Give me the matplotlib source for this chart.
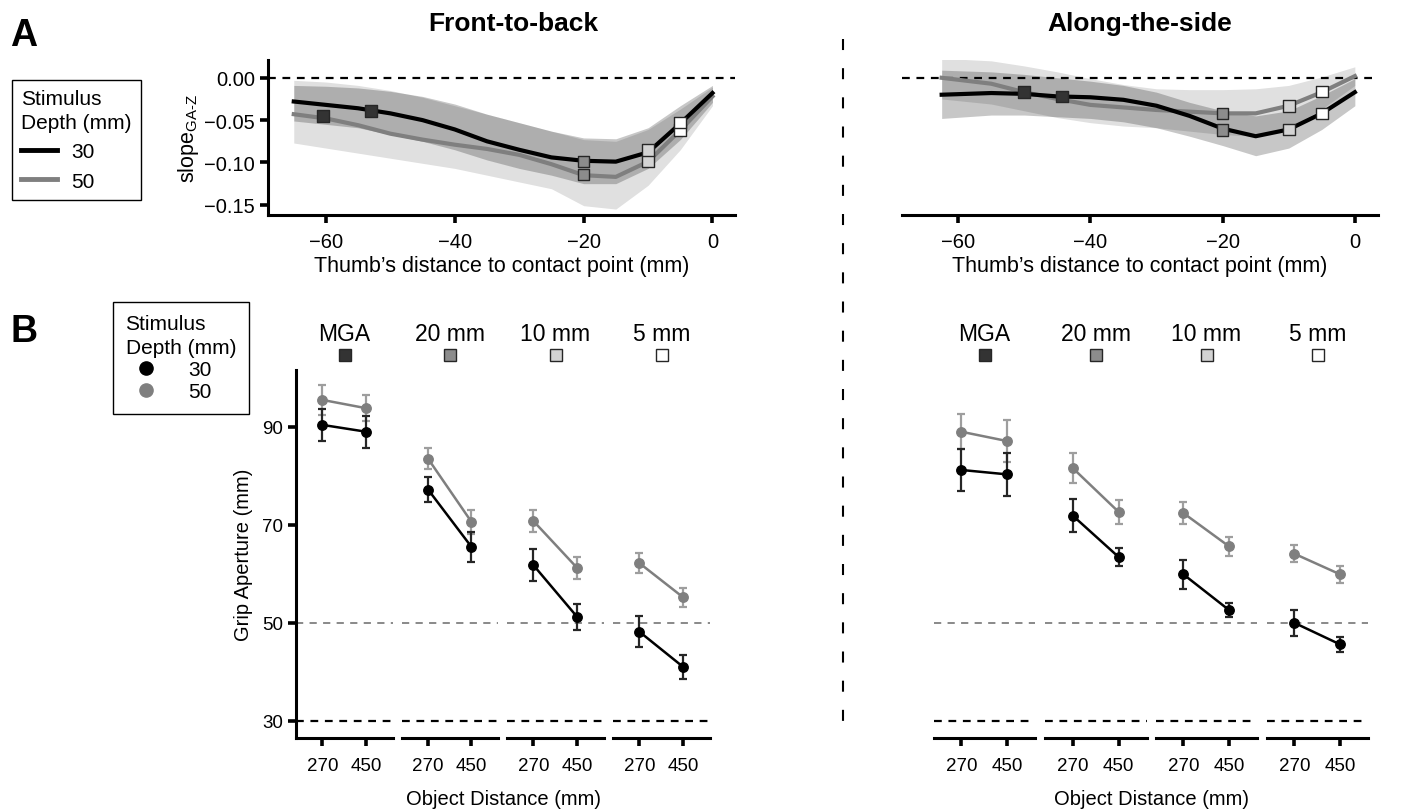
import numpy as np
import matplotlib.pyplot as plt
from matplotlib.lines import Line2D
from matplotlib.ticker import FuncFormatter

plt.rcParams['font.family'] = 'Liberation Sans'
plt.rcParams['mathtext.fontset'] = 'custom'
plt.rcParams['mathtext.rm'] = 'Liberation Sans'
plt.rcParams['font.size'] = 13
plt.rcParams['axes.linewidth'] = 2.2
plt.rcParams['xtick.major.width'] = 2.6
plt.rcParams['ytick.major.width'] = 2.6
plt.rcParams['xtick.major.size'] = 6
plt.rcParams['ytick.major.size'] = 6
plt.rcParams['xtick.major.pad'] = 6
plt.rcParams['xtick.labelsize'] = 13.5
plt.rcParams['ytick.labelsize'] = 13.5

# ---------------- A: slope of grip aperture over thumb distance ----------------
# front-to-back
dist_fb = [-65, -60, -55, -50, -45, -40, -35, -30, -25, -20, -15, -10, -5, 0]
slope_fb_30 = [-0.028, -0.032, -0.036, -0.042, -0.050, -0.061, -0.075, -0.085,
               -0.094, -0.098, -0.099, -0.088, -0.054, -0.018]
slope_fb_50 = [-0.043, -0.048, -0.056, -0.066, -0.073, -0.079, -0.084, -0.091,
               -0.102, -0.115, -0.117, -0.099, -0.062, -0.022]
band_fb_30_hi = [-0.009, -0.010, -0.012, -0.016, -0.022, -0.031, -0.043, -0.053,
                 -0.063, -0.071, -0.072, -0.059, -0.033, -0.009]
band_fb_30_lo = [-0.051, -0.055, -0.059, -0.067, -0.075, -0.085, -0.097, -0.107,
                 -0.115, -0.125, -0.125, -0.107, -0.073, -0.029]
band_fb_50_hi = [-0.003, -0.005, -0.009, -0.015, -0.023, -0.033, -0.043, -0.053,
                 -0.063, -0.073, -0.075, -0.061, -0.037, -0.011]
band_fb_50_lo = [-0.077, -0.083, -0.089, -0.095, -0.101, -0.107, -0.115, -0.123,
                 -0.131, -0.151, -0.155, -0.127, -0.085, -0.033]
# along-the-side
dist_as = [-62.5, -55, -50, -45, -40, -35, -30, -25, -20, -15, -10, -5, 0]
slope_as_30 = [-0.020, -0.018, -0.019, -0.022, -0.023, -0.026, -0.033, -0.045,
               -0.060, -0.069, -0.061, -0.042, -0.017]
slope_as_50 = [0.000, -0.007, -0.017, -0.025, -0.032, -0.035, -0.038, -0.040,
               -0.042, -0.042, -0.033, -0.017, 0.002]
band_as_30_hi = [0.009, 0.007, 0.004, 0.000, -0.004, -0.009, -0.017, -0.029,
                 -0.039, -0.045, -0.039, -0.021, -0.001]
band_as_30_lo = [-0.048, -0.044, -0.044, -0.046, -0.048, -0.052, -0.059, -0.069,
                 -0.080, -0.092, -0.083, -0.061, -0.033]
band_as_50_hi = [0.023, 0.020, 0.014, 0.007, -0.001, -0.008, -0.013, -0.014,
                 -0.014, -0.013, -0.009, 0.001, 0.013]
band_as_50_lo = [-0.025, -0.031, -0.039, -0.047, -0.053, -0.057, -0.059, -0.063,
                 -0.067, -0.069, -0.059, -0.037, -0.009]

# time points (MGA, 20 mm, 10 mm, 5 mm) marked on the curves
mark_fb_x_30 = [-53, -20, -10, -5]
mark_fb_y_30 = [-0.039, -0.099, -0.085, -0.053]
mark_fb_x_50 = [-60.5, -20, -10, -5]
mark_fb_y_50 = [-0.045, -0.114, -0.098, -0.062]
mark_as_x_30 = [-44.3, -20, -10, -5]
mark_as_y_30 = [-0.022, -0.062, -0.061, -0.042]
mark_as_x_50 = [-50, -20, -10, -5]
mark_as_y_50 = [-0.017, -0.042, -0.033, -0.016]

# ---------------- B: grip aperture at each time point ----------------
gap_labels = ['MGA', '20 mm', '10 mm', '5 mm']
gap_colors = ['#333333', '#8c8c8c', '#d3d3d3', '#ffffff']
obj_dist = [270, 450]
ga_fb_30 = [[90.4, 89.0], [77.2, 65.5], [61.8, 51.2], [48.2, 41.0]]
err_fb_30 = [[3.3, 3.3], [2.5, 3.0], [3.2, 2.6], [3.1, 2.4]]
ga_fb_50 = [[95.5, 93.8], [83.5, 70.6], [70.8, 61.2], [62.2, 55.2]]
err_fb_50 = [[3.0, 2.6], [2.2, 2.4], [2.3, 2.3], [2.0, 2.0]]
ga_as_30 = [[81.2, 80.3], [71.9, 63.4], [59.9, 52.6], [50.0, 45.6]]
err_as_30 = [[4.2, 4.4], [3.3, 1.9], [3.0, 1.5], [2.7, 1.5]]
ga_as_50 = [[89.0, 87.1], [81.6, 72.6], [72.4, 65.6], [64.1, 59.9]]
err_as_50 = [[3.6, 4.2], [3.1, 2.4], [2.2, 2.0], [1.7, 1.8]]

W, H = 1416, 812
fig = plt.figure(figsize=(W / 100, H / 100), dpi=100)


def rect(x0, y0, x1, y1):
    # pixel box -> figure fraction
    return [x0 / W, 1 - y1 / H, (x1 - x0) / W, (y1 - y0) / H]


def minus_fmt(fmt):
    return FuncFormatter(lambda v, p: (fmt % v).replace('-', '\u2212'))


def slope_panel(ax, dist, m30, m50, b30lo, b30hi, b50lo, b50hi,
                mx30, my30, mx50, my50):
    ax.fill_between(dist, b50lo, b50hi, color='k', alpha=0.12, lw=0, zorder=1)
    ax.fill_between(dist, b30lo, b30hi, color='k', alpha=0.22, lw=0, zorder=1)
    ax.axhline(0, color='k', lw=1.6, ls=(0, (3.5, 3)), zorder=2)
    ax.plot(dist, m50, color='#7f7f7f', lw=3, zorder=3)
    ax.plot(dist, m30, color='k', lw=3, zorder=4)
    ax.scatter(mx50, my50, marker='s', s=70, c=gap_colors, edgecolors='0.15',
               linewidths=1, zorder=5)
    ax.scatter(mx30, my30, marker='s', s=70, c=gap_colors, edgecolors='0.15',
               linewidths=1, zorder=6)
    ax.set_xlim(-69, 3.5)
    ax.set_ylim(-0.162, 0.021)
    ax.set_xticks([-60, -40, -20, 0])
    ax.xaxis.set_major_formatter(minus_fmt('%d'))
    ax.tick_params(labelsize=14.5)
    ax.spines['top'].set_visible(False)
    ax.spines['right'].set_visible(False)
    ax.set_xlabel('Thumb\u2019s distance to contact point (mm)', fontsize=15.5, labelpad=3)


ax_fb = fig.add_axes(rect(268, 61, 735, 216))
slope_panel(ax_fb, dist_fb, slope_fb_30, slope_fb_50, band_fb_30_lo, band_fb_30_hi,
            band_fb_50_lo, band_fb_50_hi, mark_fb_x_30, mark_fb_y_30,
            mark_fb_x_50, mark_fb_y_50)
ax_fb.set_yticks([-0.15, -0.10, -0.05, 0.00])
ax_fb.yaxis.set_major_formatter(minus_fmt('%.2f'))
ax_fb.set_ylabel(r'slope$_{\mathregular{GA\text{-}Z}}$', fontsize=15.5, labelpad=2)

ax_as = fig.add_axes(rect(902, 61, 1378, 216))
slope_panel(ax_as, dist_as, slope_as_30, slope_as_50, band_as_30_lo, band_as_30_hi,
            band_as_50_lo, band_as_50_hi, mark_as_x_30, mark_as_y_30,
            mark_as_x_50, mark_as_y_50)
ax_as.set_xlim(-68.5, 3.5)
ax_as.spines['left'].set_visible(False)
ax_as.set_yticks([])

fig.text(513 / W, 1 - 24 / H, 'Front-to-back', ha='center', va='center',
         fontsize=19, fontweight='bold')
fig.text(1140 / W, 1 - 24 / H, 'Along-the-side', ha='center', va='center',
         fontsize=19, fontweight='bold')
fig.text(24 / W, 1 - 36 / H, 'A', ha='center', va='center', fontsize=27, fontweight='bold')
fig.text(24 / W, 1 - 332 / H, 'B', ha='center', va='center', fontsize=27, fontweight='bold')

leg_a = fig.legend([Line2D([], [], color='k', lw=3.5), Line2D([], [], color='#7f7f7f', lw=3.5)],
                   ['30', '50'], title='Stimulus\nDepth (mm)', loc='upper left',
                   bbox_to_anchor=(12 / W, 1 - 81 / H), borderaxespad=0,
                   fancybox=False, edgecolor='k', framealpha=1, fontsize=15,
                   title_fontsize=15, alignment='left', handlelength=1.7,
                   handletextpad=0.7, labelspacing=0.5, borderpad=0.45)
leg_a.get_frame().set_linewidth(1)
leg_a.get_title().set_linespacing(1.3)

# ---------------- B panels ----------------
seg_fb = [(296, 393), (402, 498), (507, 604), (613, 710)]
seg_as = [(934, 1035), (1045, 1147), (1156, 1257), (1267, 1368)]


def aperture_group(segs, g30, e30, g50, e50, with_y):
    for k, (x0, x1) in enumerate(segs):
        ax = fig.add_axes(rect(x0, 371, x1, 739))
        ax.axhline(50, color='0.5', lw=1.3, ls=(0, (4, 3.5)), zorder=1)
        ax.axhline(30, color='k', lw=1.6, ls=(0, (3.5, 3)), zorder=1)
        ax.errorbar(obj_dist, g50[k], yerr=e50[k], color='#7f7f7f', ecolor='0.62',
                    marker='o', ms=6.8, lw=1.8, elinewidth=1.6, capsize=3,
                    capthick=1.6, zorder=3)
        ax.errorbar(obj_dist, g30[k], yerr=e30[k], color='k', ecolor='0.15',
                    marker='o', ms=6.8, lw=1.8, elinewidth=1.6, capsize=3,
                    capthick=1.6, zorder=4)
        ax.set_xlim(162, 560)
        ax.set_ylim(26.5, 101.6)
        ax.set_xticks(obj_dist)
        ax.tick_params(axis='x', pad=8)
        ax.spines['top'].set_visible(False)
        ax.spines['right'].set_visible(False)
        if with_y and k == 0:
            ax.set_yticks([30, 50, 70, 90])
            ax.set_ylabel('Grip Aperture (mm)', fontsize=14.5, labelpad=6)
        else:
            ax.spines['left'].set_visible(False)
            ax.set_yticks([])
        ax.text(0.5, 1.098, gap_labels[k], transform=ax.transAxes, ha='center',
                va='center', fontsize=16.5)
        ax.plot(0.5, 1.041, 's', transform=ax.transAxes, clip_on=False, ms=8.5,
                mfc=gap_colors[k], mec='0.15', mew=1)


aperture_group(seg_fb, ga_fb_30, err_fb_30, ga_fb_50, err_fb_50, True)
aperture_group(seg_as, ga_as_30, err_as_30, ga_as_50, err_as_50, False)
fig.text(503 / W, 1 - 800 / H, 'Object Distance (mm)', ha='center', va='center', fontsize=14.5)
fig.text(1151 / W, 1 - 800 / H, 'Object Distance (mm)', ha='center', va='center', fontsize=14.5)

leg_b = fig.legend([Line2D([], [], color='k', marker='o', ls='none', ms=9.5),
                    Line2D([], [], color='#7f7f7f', marker='o', ls='none', ms=9.5)],
                   ['30', '50'], title='Stimulus\nDepth (mm)', loc='upper left',
                   bbox_to_anchor=(113 / W, 1 - 303 / H), borderaxespad=0,
                   fancybox=False, edgecolor='k', framealpha=1, fontsize=15,
                   title_fontsize=15, alignment='left', handlelength=2.0,
                   handletextpad=1.0, labelspacing=0.15, borderpad=0.6)
leg_b.get_frame().set_linewidth(1)
leg_b.get_title().set_linespacing(1.3)

# divider between the two conditions
fig.add_artist(Line2D([843 / W, 843 / W], [1 - 40 / H, 1 - 738 / H], transform=fig.transFigure,
                      color='k', lw=1.5, ls=(0, (5.3, 8.7))))

fig.savefig('out.png', dpi=100)
